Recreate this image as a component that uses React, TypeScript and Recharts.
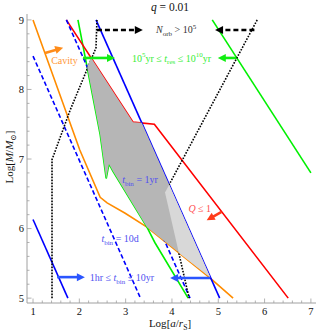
import React from 'react';
import { ComposedChart, Line, Scatter, XAxis, YAxis } from 'recharts';

type Pt = { x: number; y: number };
type Part = [string, 'n' | 'i' | 'sub' | 'sup'];

const FONT = '"Liberation Serif", "DejaVu Serif", serif';
const FRAME = '#a0a0a0';

// tick positions (major every 1, minor every 0.2)
const xTicks = [1, 1.2, 1.4, 1.6, 1.8, 2, 2.2, 2.4, 2.6, 2.8, 3, 3.2, 3.4, 3.6, 3.8, 4, 4.2, 4.4, 4.6, 4.8, 5, 5.2, 5.4, 5.6, 5.8, 6, 6.2, 6.4, 6.6, 6.8, 7];
const yTicks = [5, 5.2, 5.4, 5.6, 5.8, 6, 6.2, 6.4, 6.6, 6.8, 7, 7.2, 7.4, 7.6, 7.8, 8, 8.2, 8.4, 8.6, 8.8, 9];

// boundary curves, log(a/rS) vs log(M/Msun)
const cavityLine: Pt[] = [
  { x: 1.0, y: 9.0 }, { x: 1.755, y: 7.6 }, { x: 2.01, y: 7.13 }, { x: 2.45, y: 6.45 },
  { x: 2.6, y: 6.37 }, { x: 2.99, y: 6.22 }, { x: 3.46, y: 6.02 }, { x: 4.82, y: 5.29 }, { x: 5.32, y: 5.0 },
];
const tBin10d: Pt[] = [{ x: 1.0, y: 8.48 }, { x: 3.32, y: 5.0 }];
const tBin1yr: Pt[] = [{ x: 1.72, y: 9.0 }, { x: 4.39, y: 5.0 }];
const tBin1hr: Pt[] = [{ x: 1.0, y: 6.13 }, { x: 1.753, y: 5.0 }];
const tBin10yr: Pt[] = [{ x: 2.36, y: 9.0 }, { x: 5.03, y: 5.0 }];
const toomreQ: Pt[] = [{ x: 1.72, y: 9.0 }, { x: 3.16, y: 7.53 }, { x: 3.62, y: 7.5 }, { x: 6.51, y: 5.0 }];
const tRes1e5: Pt[] = [
  { x: 1.97, y: 9.0 }, { x: 2.45, y: 7.35 }, { x: 2.58, y: 6.72 }, { x: 2.64, y: 6.93 },
  { x: 2.73, y: 6.82 }, { x: 3.46, y: 6.02 }, { x: 3.63, y: 5.8 }, { x: 4.35, y: 5.0 },
];
const tRes1e10: Pt[] = [{ x: 4.87, y: 9.0 }, { x: 7.0, y: 6.8 }];
const nOrbLeft: Pt[] = [{ x: 1.41, y: 5.0 }, { x: 1.41, y: 6.99 }, { x: 1.8, y: 7.7 }, { x: 2.36, y: 8.6 }, { x: 2.38, y: 9.0 }];
const nOrbRight: Pt[] = [{ x: 5.84, y: 9.0 }, { x: 3.85, y: 6.52 }, { x: 4.37, y: 5.0 }];

// allowed region (dark) and the part beyond the right N_orb curve (light)
const allowedRegion: Pt[] = [
  { x: 2.17, y: 8.32 }, { x: 2.25, y: 8.46 }, { x: 3.16, y: 7.53 }, { x: 3.347, y: 7.52 },
  { x: 4.83, y: 5.295 }, { x: 3.46, y: 6.02 }, { x: 2.73, y: 6.82 }, { x: 2.64, y: 6.93 },
  { x: 2.58, y: 6.72 }, { x: 2.45, y: 7.35 },
];
const lightRegion: Pt[] = [{ x: 3.94, y: 6.63 }, { x: 3.85, y: 6.52 }, { x: 4.15, y: 5.65 }, { x: 4.83, y: 5.295 }];

// arrows: [start, end]
const nOrbArrowR: Pt[] = [{ x: 2.38, y: 8.856 }, { x: 3.37, y: 8.856 }];
const nOrbArrowL: Pt[] = [{ x: 5.78, y: 8.856 }, { x: 4.93, y: 8.856 }];
const tResArrowR: Pt[] = [{ x: 2.08, y: 8.453 }, { x: 2.77, y: 8.453 }];
const tResArrowL: Pt[] = [{ x: 5.39, y: 8.453 }, { x: 4.99, y: 8.453 }];
const tBinArrowR: Pt[] = [{ x: 1.52, y: 5.302 }, { x: 2.12, y: 5.302 }];
const tBinArrowL: Pt[] = [{ x: 4.82, y: 5.29 }, { x: 3.96, y: 5.29 }];
const cavityArrow: Pt[] = [{ x: 1.26, y: 8.525 }, { x: 1.65, y: 8.6 }];
const qArrow: Pt[] = [{ x: 5.07, y: 6.24 }, { x: 4.75, y: 6.12 }];

const annotations: { at: Pt; color: string; parts: Part[] }[] = [
  { at: { x: 1.68, y: 8.41 }, color: '#ff9a3a', parts: [['Cavity', 'n']] },
  {
    at: { x: 3.99, y: 8.45 }, color: '#33ee33',
    parts: [['10', 'n'], ['5', 'sup'], ['yr ≤ ', 'n'], ['t', 'i'], ['res', 'sub'], [' ≤ 10', 'n'], ['10', 'sup'], ['yr', 'n']],
  },
  { at: { x: 4.09, y: 8.856 }, color: '#333333', parts: [['N', 'i'], ['orb', 'sub'], [' > 10', 'n'], ['5', 'sup']] },
  { at: { x: 3.31, y: 6.7 }, color: '#5050f0', parts: [['t', 'i'], ['bin', 'sub'], [' = 1yr', 'n']] },
  { at: { x: 2.88, y: 5.86 }, color: '#5050f0', parts: [['t', 'i'], ['bin', 'sub'], [' = 10d', 'n']] },
  { at: { x: 2.92, y: 5.3 }, color: '#5050f0', parts: [['1hr ≤ ', 'n'], ['t', 'i'], ['bin', 'sub'], [' ≤ 10yr', 'n']] },
  { at: { x: 4.6, y: 6.29 }, color: '#ff5050', parts: [['Q', 'i'], [' ≤ 1', 'n']] },
];

function Rich({ x, y, parts, color, size = 10 }: { x: number; y: number; parts: Part[]; color: string; size?: number }) {
  let shift = 0;
  const spans = parts.map(([t, k], i) => {
    const target = k === 'sub' ? size * 0.28 : k === 'sup' ? -size * 0.42 : 0;
    const dy = target - shift;
    shift = target;
    return (
      <tspan key={i} dy={dy} fontStyle={k === 'i' ? 'italic' : 'normal'} fontSize={k === 'sub' || k === 'sup' ? size * 0.7 : size}>
        {t}
      </tspan>
    );
  });
  return (
    <text x={x} y={y} textAnchor="middle" fill={color} fontSize={size} fontFamily={FONT}>
      {spans}
    </text>
  );
}

const isMajor = (v: number) => Math.abs(v - Math.round(v)) < 1e-6;

const BottomTick = (p: any) => {
  const big = isMajor(p.payload.value);
  return (
    <g>
      <line x1={p.x} x2={p.x} y1={p.y} y2={p.y - (big ? 4.5 : 2.5)} stroke={FRAME} strokeWidth={0.8} />
      {big && (
        <text x={p.x} y={p.y + 12} textAnchor="middle" fontSize={10.5} fontFamily={FONT} fill="#111">
          {Math.round(p.payload.value)}
        </text>
      )}
    </g>
  );
};
const TopTick = (p: any) => {
  const big = isMajor(p.payload.value);
  return <line x1={p.x} x2={p.x} y1={p.y} y2={p.y + (big ? 4.5 : 2.5)} stroke={FRAME} strokeWidth={0.8} />;
};
const LeftTick = (p: any) => {
  const big = isMajor(p.payload.value);
  return (
    <g>
      <line x1={p.x} x2={p.x + (big ? 4.5 : 2.5)} y1={p.y} y2={p.y} stroke={FRAME} strokeWidth={0.8} />
      {big && (
        <text x={p.x - 3} y={p.y + 3.6} textAnchor="end" fontSize={10.5} fontFamily={FONT} fill="#111">
          {Math.round(p.payload.value)}
        </text>
      )}
    </g>
  );
};
const RightTick = (p: any) => {
  const big = isMajor(p.payload.value);
  return <line x1={p.x} x2={p.x - (big ? 4.5 : 2.5)} y1={p.y} y2={p.y} stroke={FRAME} strokeWidth={0.8} />;
};

const arrowLine = (color: string, dash?: string) => (p: any) => {
  const pts = p.points;
  const a = pts[0];
  const b = pts[pts.length - 1];
  const ang = Math.atan2(b.y - a.y, b.x - a.x);
  const L = 8;
  const W = 4;
  const c = Math.cos(ang);
  const s = Math.sin(ang);
  const bx = b.x - L * c;
  const by = b.y - L * s;
  const head = `${b.x},${b.y} ${bx - W * s},${by + W * c} ${bx + W * s},${by - W * c}`;
  return (
    <g>
      <line x1={a.x} y1={a.y} x2={bx + 1 * c} y2={by + 1 * s} stroke={color} strokeWidth={2.6} strokeDasharray={dash} />
      <polygon points={head} fill={color} />
    </g>
  );
};

const noShape = () => <g />;

const curves: { data: Pt[]; color: string; dash?: string; width?: number }[] = [
  { data: cavityLine, color: '#ff8c00' },
  { data: tRes1e5, color: '#00f000' },
  { data: tRes1e10, color: '#00f000' },
  { data: toomreQ, color: '#ff0000' },
  { data: tBin1hr, color: '#0000ff' },
  { data: tBin10yr, color: '#0000ff' },
  { data: tBin10d, color: '#0000ff', dash: '4.5 2.5' },
  { data: tBin1yr, color: '#0000ff', dash: '4.5 2.5' },
  { data: nOrbLeft, color: '#000000', dash: '1.6 1.4' },
  { data: nOrbRight, color: '#000000', dash: '1.6 1.4' },
];

const arrows: { data: Pt[]; color: string; dash?: string }[] = [
  { data: nOrbArrowR, color: '#000000', dash: '5 3' },
  { data: nOrbArrowL, color: '#000000', dash: '5 3' },
  { data: tResArrowR, color: '#11ee11' },
  { data: tResArrowL, color: '#11ee11' },
  { data: tBinArrowR, color: '#2a55ff' },
  { data: tBinArrowL, color: '#2a55ff' },
  { data: cavityArrow, color: '#ff8c1a' },
  { data: qArrow, color: '#ff3b1a' },
];

export default function App() {
  const xDomain: [number, number] = [0.87, 7.11];
  const yDomain: [number, number] = [4.93, 9.085];
  return (
    <div style={{ position: 'absolute', left: 0, top: 0, width: 319, height: 334, background: '#fff' }}>
      <ComposedChart width={319} height={334} margin={{ top: 14, right: 3, bottom: 0, left: 0 }}>
        <XAxis type="number" dataKey="x" domain={xDomain} allowDataOverflow ticks={xTicks} interval={0}
          tick={BottomTick} tickLine={false} tickSize={0} tickMargin={0} height={31} axisLine={{ stroke: FRAME }} />
        <XAxis xAxisId="t" orientation="top" type="number" dataKey="x" domain={xDomain} allowDataOverflow ticks={xTicks}
          interval={0} tick={TopTick} tickLine={false} tickSize={0} tickMargin={0} height={0} axisLine={{ stroke: FRAME }} />
        <YAxis type="number" dataKey="y" domain={yDomain} allowDataOverflow ticks={yTicks} interval={0}
          tick={LeftTick} tickLine={false} tickSize={0} tickMargin={0} width={27} axisLine={{ stroke: FRAME }} />
        <YAxis yAxisId="r" orientation="right" type="number" dataKey="y" domain={yDomain} allowDataOverflow ticks={yTicks}
          interval={0} tick={RightTick} tickLine={false} tickSize={0} tickMargin={0} width={0} axisLine={{ stroke: FRAME }} />

        <Scatter data={allowedRegion} dataKey="y" shape={noShape} line={{ fill: '#b6b6b6', stroke: 'none' }} lineJointType="linear" isAnimationActive={false} />
        <Scatter data={lightRegion} dataKey="y" shape={noShape} line={{ fill: '#d8d8d8', stroke: 'none' }} lineJointType="linear" isAnimationActive={false} />

        {curves.map((c, i) => (
          <Line key={`c${i}`} data={c.data} dataKey="y" type="linear" stroke={c.color} strokeWidth={c.width ?? 1.6}
            strokeDasharray={c.dash} dot={false} activeDot={false} isAnimationActive={false} />
        ))}

        {arrows.map((a, i) => (
          <Scatter key={`a${i}`} data={a.data} dataKey="y" shape={noShape} line={arrowLine(a.color, a.dash)} isAnimationActive={false} />
        ))}

        {annotations.map((t, i) => (
          <Scatter key={`t${i}`} data={[t.at]} dataKey="y" isAnimationActive={false}
            shape={(p: any) => <Rich x={p.cx} y={p.cy + 3.5} parts={t.parts} color={t.color} />} />
        ))}
      </ComposedChart>
      <svg width={319} height={334} style={{ position: 'absolute', left: 0, top: 0, pointerEvents: 'none' }}>
        <Rich x={170} y={10.5} size={11.5} color="#111" parts={[['q', 'i'], [' = 0.01', 'n']]} />
        <Rich x={170} y={327} size={11} color="#111" parts={[['Log', 'n'], ['[', 'n'], ['a', 'i'], ['/', 'n'], ['r', 'i'], ['S', 'sub'], [']', 'n']]} />
        <g transform="rotate(-90 12.5 157)">
          <Rich x={12.5} y={157} size={11} color="#111" parts={[['Log', 'n'], ['[', 'n'], ['M', 'i'], ['/', 'n'], ['M', 'i'], ['⊙', 'sub'], [']', 'n']]} />
        </g>
      </svg>
    </div>
  );
}
